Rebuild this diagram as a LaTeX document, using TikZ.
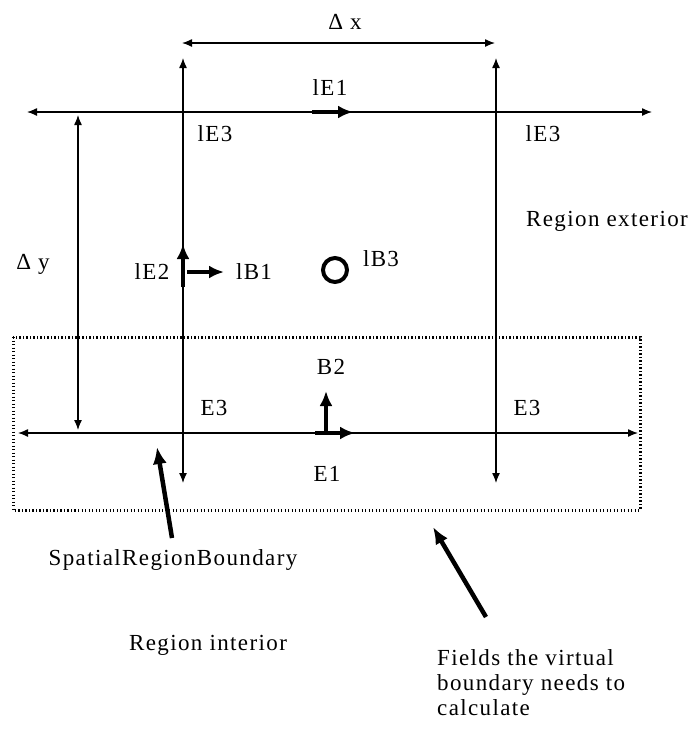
\documentclass[tikz,border=0pt]{standalone}
\usepackage{fontspec}
\setmainfont{Liberation Serif}[LetterSpace=6]
\usetikzlibrary{arrows.meta}
\begin{document}
\begin{tikzpicture}[x=1pt,y=-1pt,
  lbl/.style={inner sep=0pt,font=\fontsize{23}{25}\selectfont},
  thinline/.style={line width=1.3pt,{Latex[length=10pt,width=8pt]}-{Latex[length=10pt,width=8pt]}},
  field/.style={line width=3.5pt,-{Latex[length=15pt,width=13pt]}},
  pointer/.style={line width=4.5pt,-{Latex[length=17pt,width=14pt]}},
  boundary/.style={line width=3pt,dash pattern=on 1.2pt off 2.3pt}]
\useasboundingbox (0,0) rectangle (698,729);

% end points of the grid lines
\coordinate (dxL) at (182,43);   \coordinate (dxR) at (495,43);
\coordinate (tL) at (27,112);    \coordinate (tR) at (652,112);
\coordinate (vLt) at (183,58);   \coordinate (vLb) at (183,483);
\coordinate (vRt) at (496,58);   \coordinate (vRb) at (496,483);
\coordinate (dyT) at (78,115);   \coordinate (dyB) at (78,430);
\coordinate (bL) at (18,433);    \coordinate (bR) at (638,433);

% spacing arrows and grid lines
\draw[thinline] (dxL) -- (dxR);
\draw[thinline] (tL) -- (tR);
\draw[thinline] (vLt) -- (vLb);
\draw[thinline] (vRt) -- (vRb);
\draw[thinline] (dyT) -- (dyB);
\draw[thinline] (bL) -- (bR);

% virtual boundary region
\draw[boundary] (13,337) rectangle (640,510);

% field vectors
\coordinate (e1a) at (312,112); \coordinate (e1b) at (353,112);
\coordinate (e2a) at (183,287); \coordinate (e2b) at (183,244);
\coordinate (b1a) at (187,272); \coordinate (b1b) at (224,272);
\coordinate (B2a) at (326,433); \coordinate (B2b) at (326,391);
\coordinate (E1a) at (315,433); \coordinate (E1b) at (355,433);
\draw[field] (e1a) -- (e1b);
\draw[field] (e2a) -- (e2b);
\draw[field] (b1a) -- (b1b);
\draw[field] (B2a) -- (B2b);
\draw[field] (E1a) -- (E1b);
\node[circle,draw,line width=4pt,minimum size=24pt,inner sep=0pt] (b3) at (335,270) {};

% labels
\node[lbl] (ldx) at (345,22) {Δ x};
\node[lbl] (llE1) at (330,88) {lE1};
\node[lbl] (llE3a) at (215,134) {lE3};
\node[lbl] (llE3b) at (543,134) {lE3};
\node[lbl] (lext) at (607,221) {Region exterior};
\node[lbl] (ldy) at (33,264) {Δ y};
\node[lbl] (llE2) at (152,272) {lE2};
\node[lbl] (llB1) at (254,272) {lB1};
\node[lbl] (llB3) at (381,259) {lB3};
\node[lbl] (lB2) at (331,367) {B2};
\node[lbl] (lE3a) at (214,408) {E3};
\node[lbl] (lE3b) at (527,408) {E3};
\node[lbl] (lE1) at (327,474) {E1};
\node[lbl] (lsrb) at (173,560) {SpatialRegionBoundary};
\node[lbl] (lint) at (208,645) {Region interior};
\node[lbl,align=left,anchor=north west] (lfields) at (437,649)
  {Fields the virtual\\boundary needs to\\calculate};

% pointers
\coordinate (p1) at (157,447);
\coordinate (p2) at (433,527);
\coordinate (t1) at (172,538);
\coordinate (t2) at (486,617);
\draw[pointer] (t1) -- (p1);
\draw[pointer] (t2) -- (p2);
\end{tikzpicture}
\end{document}
